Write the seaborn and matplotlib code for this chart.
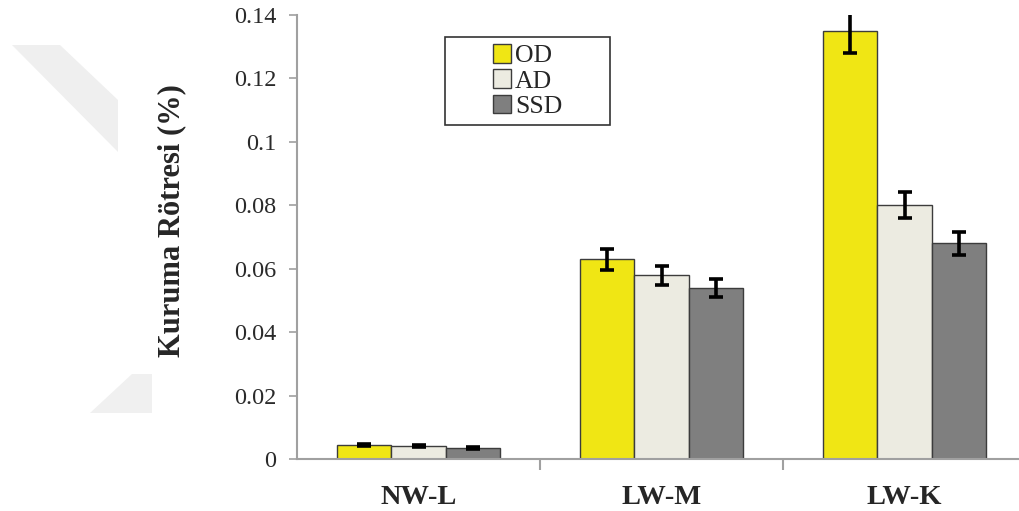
import matplotlib
matplotlib.use("Agg")
import matplotlib.pyplot as plt
from matplotlib.patches import Polygon, Rectangle
from matplotlib.ticker import FixedLocator
import numpy as np
import pandas as pd
import seaborn as sns

# Shrinkage values (%) with standard deviations
categories = ["NW-L", "LW-M", "LW-K"]
methods = ["OD", "AD", "SSD"]
od_mean = [0.0044, 0.063, 0.135]
ad_mean = [0.0040, 0.058, 0.080]
ssd_mean = [0.0036, 0.054, 0.068]
od_sd = [0.0004, 0.0033, 0.0070]
ad_sd = [0.0003, 0.0030, 0.0041]
ssd_sd = [0.0003, 0.0028, 0.0036]
colors = ["#f0e614", "#ecebe1", "#7f7f7f"]

means = {"OD": od_mean, "AD": ad_mean, "SSD": ssd_mean}
sds = {"OD": od_sd, "AD": ad_sd, "SSD": ssd_sd}
df = pd.DataFrame(
    [(c, m, means[m][i]) for m in methods for i, c in enumerate(categories)],
    columns=["Grup", "Yöntem", "Rötre"],
)

sns.set_style("white")
plt.rcParams["font.family"] = ["Liberation Serif", "DejaVu Serif"]

W, H = 1019, 511
fig = plt.figure(figsize=(W / 100, H / 100), dpi=100)

# faint background emblem on the left
def px(pts):
    return [(x / W, 1 - y / H) for x, y in pts]

fig.patches.append(Polygon(px([(12, 45), (60, 45), (118, 100), (118, 152)]),
                           closed=True, transform=fig.transFigure,
                           facecolor="#efefef", edgecolor="none", zorder=0))
fig.patches.append(Polygon(px([(132, 374), (152, 374), (152, 413), (90, 413)]),
                           closed=True, transform=fig.transFigure,
                           facecolor="#f0f0f0", edgecolor="none", zorder=0))

ax = fig.add_axes([297 / W, 1 - 459 / H, 1 - 297 / W, (459 - 15) / H])
ax.patch.set_alpha(0)

sns.barplot(data=df, x="Grup", y="Rötre", hue="Yöntem", order=categories,
            hue_order=methods, palette=colors, width=0.667, errorbar=None,
            edgecolor="#3c3c3c", linewidth=1.0, saturation=1, ax=ax)

# standard deviation whiskers on each bar
for cont, m in zip(ax.containers, methods):
    for patch in cont:
        xc = patch.get_x() + patch.get_width() / 2
        idx = int(round(xc))
        ax.errorbar(xc, patch.get_height(), yerr=sds[m][idx], fmt="none",
                    ecolor="black", elinewidth=2.6, capsize=5, capthick=2.6,
                    zorder=5)

ax.set_ylim(0, 0.14)
ax.set_xlim(-0.5, (W - 418.5) / 243.0)
ax.set_yticks(np.arange(0, 0.141, 0.02))
ax.set_yticklabels(["0", "0.02", "0.04", "0.06", "0.08", "0.1", "0.12", "0.14"])
ax.xaxis.set_minor_locator(FixedLocator([0.5, 1.5]))

for side in ["top", "right"]:
    ax.spines[side].set_visible(False)
for side in ["left", "bottom"]:
    ax.spines[side].set_color("#a0a0a0")
    ax.spines[side].set_linewidth(1.5)

ax.tick_params(axis="y", which="major", left=True, length=6, width=1.2,
               color="#a0a0a0", pad=9, labelsize=17.5, labelcolor="#2a2a2a")
ax.tick_params(axis="x", which="major", bottom=False, pad=15, labelsize=20.5)
ax.tick_params(axis="x", which="minor", bottom=True, length=8, width=1.5,
               color="#a0a0a0")
for lab in ax.get_xticklabels():
    lab.set_fontweight("bold")

ax.set_xlabel("")
ax.set_ylabel("Kuruma Rötresi (%)", fontsize=22, fontweight="bold")
ax.yaxis.set_label_coords(-0.154, 0.536)

# legend entries centred inside a wider rectangular frame
box_x0, box_x1 = (445 - 297) / 722, (610 - 297) / 722
box_y0, box_y1 = (459 - 125) / 444, (459 - 37) / 444
ax.add_patch(Rectangle((box_x0, box_y0), box_x1 - box_x0, box_y1 - box_y0,
                       transform=ax.transAxes, facecolor="white",
                       edgecolor="#333333", linewidth=1.2, zorder=6,
                       clip_on=False))
leg = ax.legend(loc="center", bbox_to_anchor=((box_x0 + box_x1) / 2,
                                              (box_y0 + box_y1) / 2),
                fontsize=18.5, frameon=False, handlelength=0.72,
                handleheight=0.72, handletextpad=0.15, labelspacing=0.08,
                borderpad=0)
leg.set_zorder(7)

fig.savefig("out.png", dpi=100)
